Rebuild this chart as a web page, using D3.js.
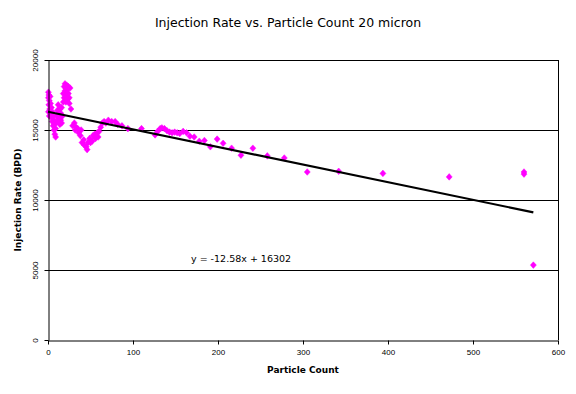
<!DOCTYPE html>
<html>
<head>
<meta charset="utf-8">
<script src="https://cdn.jsdelivr.net/npm/d3@7"></script>
<style>
  html, body { margin: 0; padding: 0; background: #fff; }
  svg { display: block; }
</style>
</head>
<body>
<svg id="chart" width="576" height="394"></svg>
<script>
// ---- data ----
const particleCount = [
  0.5,1,0.5,1.5,1,2,0.5,1.5,2.5,3,3,4,4,5,5,6,6,7,7,8,8,9,9,
  10,11,11,12,12,13,14,14,15,15,16,16,17,
  18,18,19,19,20,20,21,21,22,22,23,23,24,24,25,25,26,27,
  29,31,32,33,35,36,38,39,
  40,42,43,45,46,47,49,50,52,53,55,56,58,59,60,
  62,64,66,68,71,75,79,82,87,94,
  110,126,129,132,134,137,140,143,146,149,152,155,159,163,167,172,178,184,
  191,199,206,216,227,241,258,278,305,342,394,472,560,560,571
];
const injectionRate = [
  17700,17500,17300,17100,16800,16500,16300,16000,17400,16900,16200,16600,15900,16300,15600,16000,15300,15700,15000,15400,14700,14500,15100,
  16000,16400,15600,16800,16100,15800,16500,15400,16200,15700,15500,16600,16000,
  17000,17600,18100,17300,18300,17800,17000,18000,17500,18200,17900,17200,18100,17600,17300,16900,18000,16500,
  15300,15500,15000,15200,15100,14800,14600,15000,
  14100,14300,13900,13800,13600,14100,14400,14100,14200,14600,14700,14400,14800,14500,14900,
  15200,15500,15600,15500,15700,15600,15600,15400,15300,15100,
  15100,14650,14900,15100,15150,15100,14950,14850,14800,14850,14800,14750,14900,14800,14550,14500,14200,14250,
  13800,14350,14050,13700,13200,13700,13150,13000,12000,12050,11900,11650,12000,11850,5350
];
const trendSlope = -12.58;
const trendIntercept = 16302;
const trendLabel = "y = -12.58x + 16302";
const xTicks = [0, 100, 200, 300, 400, 500, 600];
const yTicks = [0, 5000, 10000, 15000, 20000];
const titleText = "Injection Rate vs. Particle Count 20 micron";
const xTitle = "Particle Count";
const yTitle = "Injection Rate (BPD)";

// ---- layout ----
const svg = d3.select("#chart");
const pLeft = 48, pRight = 558, pTop = 60, pBottom = 340;
const x = d3.scaleLinear().domain([0, 600]).range([pLeft, pRight]);
const y = d3.scaleLinear().domain([0, 20000]).range([pBottom, pTop]);

const points = particleCount.map((v, i) => ({ x: v, y: injectionRate[i] }));

// gridlines
svg.append("g")
  .selectAll("line")
  .data(yTicks.filter(d => d > 0))
  .join("line")
  .attr("x1", pLeft).attr("x2", pRight)
  .attr("y1", d => y(d) + 0.5).attr("y2", d => y(d) + 0.5)
  .attr("stroke", "#000").attr("stroke-width", 1);

// right border
svg.append("line")
  .attr("x1", pRight + 0.5).attr("x2", pRight + 0.5)
  .attr("y1", pTop).attr("y2", pBottom)
  .attr("stroke", "#000");

// points (diamonds)
svg.append("g")
  .selectAll("path")
  .data(points)
  .join("path")
  .attr("transform", d => `translate(${x(d.x)},${y(d.y)})`)
  .attr("d", "M0,-3.3L3,0L0,3.3L-3,0Z")
  .attr("fill", "#ff00ff")
  .attr("stroke", "#ff00ff")
  .attr("stroke-width", 0.5);

// trendline
const xMax = d3.max(particleCount);
svg.append("line")
  .attr("x1", x(0)).attr("y1", y(trendIntercept))
  .attr("x2", x(xMax)).attr("y2", y(trendIntercept + trendSlope * xMax))
  .attr("stroke", "#000").attr("stroke-width", 2.2);

// axes
const xAxis = svg.append("g")
  .attr("transform", `translate(0,${pBottom + 0.5})`)
  .call(d3.axisBottom(x).tickValues(xTicks).tickSize(4).tickSizeOuter(0).tickFormat(d3.format("d")));
xAxis.selectAll("text")
  .attr("font-family", "Liberation Sans, Arial, sans-serif")
  .attr("font-size", 8).attr("fill", "#000").attr("y", 9);
xAxis.selectAll("line, path").attr("stroke", "#000");

const yAxis = svg.append("g")
  .attr("transform", `translate(${pLeft + 0.5},0)`)
  .call(d3.axisLeft(y).tickValues(yTicks).tickSize(4).tickSizeOuter(0).tickFormat(d3.format("d")));
yAxis.selectAll("text")
  .attr("font-family", "Liberation Sans, Arial, sans-serif")
  .attr("font-size", 8).attr("fill", "#000")
  .attr("transform", "rotate(-90)")
  .attr("x", 0).attr("y", -11).attr("dy", 0)
  .attr("text-anchor", "middle");
yAxis.selectAll("line, path").attr("stroke", "#000");

// trend equation
svg.append("text")
  .attr("x", 191).attr("y", 262)
  .attr("font-family", "DejaVu Sans, sans-serif")
  .attr("font-size", 9.5)
  .text(trendLabel);

// titles
svg.append("text")
  .attr("x", 288).attr("y", 27)
  .attr("text-anchor", "middle")
  .attr("font-family", "DejaVu Sans, sans-serif")
  .attr("font-size", 12.5)
  .text(titleText);

svg.append("text")
  .attr("x", (pLeft + pRight) / 2).attr("y", 373)
  .attr("text-anchor", "middle")
  .attr("font-family", "DejaVu Sans, sans-serif")
  .attr("font-weight", "bold")
  .attr("font-size", 9)
  .text(xTitle);

svg.append("text")
  .attr("transform", `translate(21,${(pTop + pBottom) / 2}) rotate(-90)`)
  .attr("text-anchor", "middle")
  .attr("font-family", "DejaVu Sans, sans-serif")
  .attr("font-weight", "bold")
  .attr("font-size", 9)
  .text(yTitle);
</script>
</body>
</html>
